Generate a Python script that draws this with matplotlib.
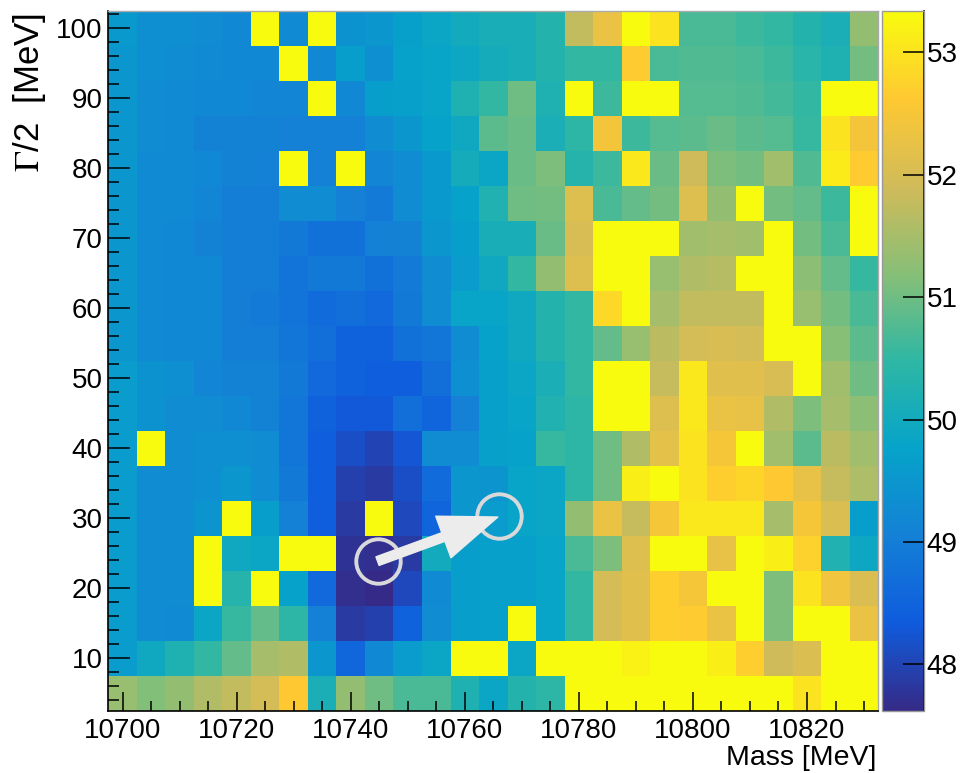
import numpy as np
import matplotlib
matplotlib.use("Agg")
import matplotlib.pyplot as plt
from matplotlib.colors import LinearSegmentedColormap

plt.rcParams['font.family'] = ['Liberation Sans', 'DejaVu Sans']
plt.rcParams['mathtext.fontset'] = 'stix'

# bin centres (5 MeV x 5 MeV bins)
mass = np.arange(10700, 10831, 5)          # 27 columns
width = np.arange(5, 101, 5)               # 20 rows

# cell values, rows from Gamma/2 = 100 (top) down to 5
z_rows = [
    [49.55, 49.35, 49.35, 49.3, 49.2, 54.0, 49.25, 54.0, 49.4, 49.5, 49.7, 49.85, 50.0, 50.1, 50.1, 50.3, 51.75, 52.3, 54.0, 53.0, 50.7, 50.7, 50.6, 50.5, 50.3, 50.15, 51.3],
    [49.5, 49.35, 49.3, 49.25, 49.2, 49.2, 54.0, 49.2, 49.65, 49.35, 49.75, 49.8, 49.9, 50.05, 50.1, 50.3, 50.5, 50.5, 52.65, 50.7, 50.75, 50.75, 50.7, 50.6, 50.4, 50.2, 51.05],
    [49.5, 49.3, 49.25, 49.2, 49.2, 49.15, 49.15, 54.0, 49.2, 49.65, 49.7, 49.8, 50.2, 50.5, 51.0, 50.2, 54.0, 50.6, 54.0, 54.0, 50.8, 50.8, 50.75, 50.65, 50.5, 54.0, 54.0],
    [49.5, 49.3, 49.25, 49.1, 49.1, 49.1, 49.05, 49.05, 49.05, 49.3, 49.5, 49.75, 49.95, 50.85, 50.95, 50.15, 50.45, 52.45, 50.6, 50.8, 50.85, 50.95, 50.85, 50.8, 50.55, 53.0, 52.45],
    [49.5, 49.25, 49.25, 49.2, 49.1, 49.05, 54.0, 49.05, 54.0, 49.15, 49.3, 49.55, 50.05, 49.85, 50.95, 51.1, 50.35, 50.6, 53.05, 50.95, 51.9, 51.1, 51.05, 51.45, 50.75, 53.1, 52.65],
    [49.5, 49.25, 49.25, 49.15, 49.0, 49.0, 49.3, 49.3, 49.05, 48.95, 49.3, 49.55, 49.75, 50.25, 51.0, 51.05, 52.1, 50.7, 50.9, 51.05, 52.1, 51.3, 54.0, 51.05, 50.9, 50.6, 54.0],
    [49.5, 49.25, 49.2, 49.1, 49.0, 49.0, 48.9, 48.75, 48.75, 49.05, 49.1, 49.5, 49.65, 50.1, 50.1, 50.95, 52.0, 54.0, 54.0, 54.0, 51.45, 51.5, 51.45, 54.0, 51.05, 50.7, 54.0],
    [49.5, 49.25, 49.2, 49.2, 49.0, 49.0, 48.8, 48.9, 48.9, 48.75, 48.95, 49.3, 49.6, 49.95, 50.5, 51.3, 52.1, 54.0, 54.0, 51.35, 51.6, 51.65, 54.0, 54.0, 51.25, 50.9, 50.55],
    [49.5, 49.25, 49.2, 49.2, 49.0, 48.95, 48.8, 48.65, 48.7, 48.6, 48.9, 49.3, 49.8, 49.8, 49.95, 50.3, 50.5, 52.85, 54.0, 51.5, 51.75, 51.75, 51.75, 54.0, 51.35, 51.05, 50.7],
    [49.5, 49.25, 49.2, 49.2, 49.0, 49.0, 48.85, 48.7, 48.45, 48.45, 48.75, 48.85, 49.3, 49.75, 49.95, 50.3, 50.5, 50.9, 51.35, 51.7, 51.95, 52.0, 51.95, 54.0, 54.0, 51.2, 50.85],
    [49.6, 49.4, 49.35, 49.15, 49.1, 49.1, 48.9, 48.6, 48.45, 48.4, 48.4, 48.7, 49.35, 49.7, 49.85, 50.15, 50.5, 54.0, 54.0, 51.8, 53.05, 52.15, 52.15, 52.0, 54.0, 51.45, 51.0],
    [49.6, 49.4, 49.3, 49.3, 49.2, 49.1, 48.85, 48.45, 48.3, 48.3, 48.7, 48.5, 49.05, 49.7, 49.8, 50.25, 50.45, 54.0, 54.0, 52.1, 53.05, 52.3, 52.25, 51.6, 51.1, 51.5, 51.25],
    [49.6, 54.0, 49.3, 49.35, 49.35, 49.3, 48.85, 48.4, 48.15, 48.0, 48.25, 49.3, 49.3, 49.7, 49.75, 50.55, 50.45, 51.0, 51.6, 52.2, 53.0, 52.5, 54.0, 51.45, 50.85, 51.7, 51.45],
    [49.6, 49.3, 49.3, 49.35, 49.5, 49.3, 48.9, 48.4, 47.95, 47.85, 48.15, 48.65, 49.5, 49.45, 49.8, 49.85, 50.45, 51.0, 53.15, 54.0, 53.0, 52.7, 52.8, 52.6, 52.25, 51.8, 51.55],
    [49.6, 49.3, 49.3, 49.45, 54.0, 49.65, 49.05, 48.4, 47.85, 54.0, 48.05, 48.5, 49.5, 49.6, 49.8, 49.85, 51.3, 52.3, 51.8, 52.5, 53.05, 53.05, 53.05, 51.5, 52.5, 52.05, 49.65],
    [49.6, 49.3, 49.3, 54.0, 49.95, 49.85, 54.0, 54.0, 47.75, 47.7, 47.85, 50.0, 49.65, 49.7, 49.7, 49.8, 50.7, 51.1, 52.1, 54.0, 54.0, 52.25, 54.0, 53.15, 52.75, 50.25, 49.9],
    [49.6, 49.3, 49.3, 54.0, 50.35, 54.0, 49.75, 48.6, 47.7, 47.6, 48.05, 49.25, 49.65, 49.7, 49.7, 49.8, 50.5, 51.95, 52.15, 52.7, 52.5, 54.0, 54.0, 51.1, 53.0, 52.4, 52.05],
    [49.6, 49.3, 49.25, 49.85, 50.55, 50.9, 50.45, 49.05, 47.85, 47.95, 48.45, 49.3, 49.65, 49.7, 54.0, 49.8, 50.5, 51.95, 52.15, 52.7, 52.65, 52.3, 54.0, 51.1, 54.0, 54.0, 52.3],
    [49.6, 49.95, 50.2, 50.5, 50.9, 51.5, 51.6, 49.5, 48.55, 49.2, 49.6, 49.85, 54.0, 54.0, 49.85, 54.0, 54.0, 54.0, 53.2, 54.0, 54.0, 53.15, 52.7, 51.9, 52.05, 54.0, 54.0],
    [51.35, 51.15, 51.3, 51.6, 51.75, 51.95, 52.6, 50.15, 51.3, 51.0, 50.7, 50.7, 50.2, 49.85, 50.3, 50.45, 54.0, 54.0, 54.0, 54.0, 54.0, 54.0, 54.0, 54.0, 53.0, 54.0, 54.0],
]

# annotation: old and new minimum position (Mass, Gamma/2)
start_pt = (10744.7, 23.9)
end_pt = (10766.0, 30.4)

z_min, z_max = 47.62, 53.34
cbar_ticks = [48, 49, 50, 51, 52, 53]

# ROOT kBird palette
stops = [0.0, 0.125, 0.25, 0.375, 0.5, 0.625, 0.75, 0.875, 1.0]
red = [0.2082, 0.0592, 0.0780, 0.0232, 0.1802, 0.5301, 0.8186, 0.9956, 0.9764]
green = [0.1664, 0.3599, 0.5041, 0.6419, 0.7178, 0.7492, 0.7328, 0.7862, 0.9832]
blue = [0.5293, 0.8684, 0.8385, 0.7914, 0.6425, 0.4662, 0.3499, 0.1968, 0.0539]
bird = LinearSegmentedColormap.from_list(
    'kbird', list(zip(stops, zip(red, green, blue))), N=255)
bird.set_over(bird(1.0))
bird.set_under(bird(0.0))

Z = np.array(z_rows)[::-1]   # bottom row first
x_edges = np.append(mass - 2.5, mass[-1] + 2.5)
y_edges = np.append(width - 2.5, width[-1] + 2.5)

W, H = 964, 773
fig = plt.figure(figsize=(W / 100, H / 100), dpi=100)
ax = fig.add_axes([108.3 / W, 1 - 711 / H, 770 / W, 700.3 / H])

mesh = ax.pcolormesh(x_edges, y_edges, Z, cmap=bird, vmin=z_min, vmax=z_max)
ax.set_xlim(x_edges[0], x_edges[-1])
ax.set_ylim(y_edges[0], y_edges[-1])

ax.set_xticks(np.arange(10700, 10821, 20))
ax.set_xticks(np.arange(10700, 10831, 5), minor=True)
ax.set_yticks(np.arange(10, 101, 10))
ax.set_yticks(np.arange(4, 103, 2), minor=True)
ax.tick_params(which='both', direction='in', top=False, right=False,
               labelsize=20, width=1.1, color='black')
ax.tick_params(axis='x', which='major', length=14, pad=5)
ax.tick_params(axis='x', which='minor', length=7)
ax.tick_params(axis='y', which='major', length=16, pad=4)
ax.tick_params(axis='y', which='minor', length=8)
for side in ['left', 'bottom']:
    ax.spines[side].set_linewidth(1.2)
for side in ['top', 'right']:
    ax.spines[side].set_color('#aaaaaa')
    ax.spines[side].set_linewidth(1.0)

# circles and arrow
circ = dict(marker='o', markersize=32, markerfacecolor='none',
            markeredgecolor='#d9d9d9', markeredgewidth=2.8, linestyle='none')
ax.plot(*start_pt, **circ)
ax.plot(*end_pt, **circ)
ax.annotate('', xy=(end_pt[0] - 0.2, end_pt[1] - 0.2), xytext=start_pt,
            arrowprops=dict(arrowstyle='simple,head_length=1.9,head_width=1.45,tail_width=0.3',
                            mutation_scale=22, color='#ececec', shrinkA=0, shrinkB=0))

# colour bar
cax = fig.add_axes([882 / W, 1 - 711 / H, 42 / W, 700.3 / H])
cb = fig.colorbar(mesh, cax=cax, ticks=cbar_ticks, extend='neither')
cb.outline.set_edgecolor('#999999')
cb.outline.set_linewidth(1.0)
cax.tick_params(direction='in', length=15, width=1.1, labelsize=20, pad=2)
cax.plot([1, 1], [0, 1], transform=cax.transAxes, color='black', lw=1.2, clip_on=False)

fig.text(876 / W, 1 - 758 / H, 'Mass [MeV]', ha='right', va='center', fontsize=20.5)
fig.text(30 / W, 1 - 13 / H, r'$\Gamma$/2  [MeV]', rotation=90, ha='center', va='top',
         fontsize=25)

fig.savefig('out.png', dpi=100)
